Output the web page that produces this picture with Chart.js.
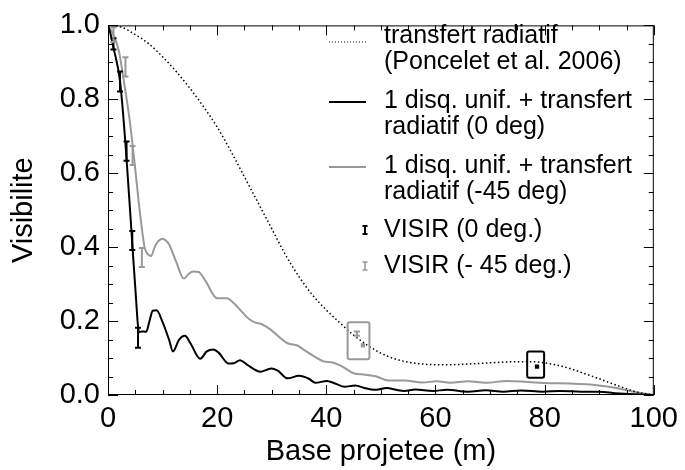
<!DOCTYPE html>
<html>
<head>
<meta charset="utf-8">
<script src="https://cdn.jsdelivr.net/npm/chart.js@4/dist/chart.umd.min.js"></script>
<style>
  html, body { margin: 0; padding: 0; background: #fff; }
  #wrap { width: 685px; height: 470px; }
</style>
</head>
<body>
<div id="wrap"><canvas id="visChart"></canvas></div>
<script>
// transfert radiatif (Poncelet et al. 2006)
const radBase = [0, 2.5, 5, 7.5, 10, 12.5, 15, 17.5, 20, 22.5, 25, 27.5, 30, 32.5, 35, 37.5, 40, 42.5, 45, 47.5, 50, 52.5, 55, 57.5, 60, 62.5, 65, 67.5, 70, 72.5, 75, 77.5, 80, 82.5, 85, 87.5, 90, 92.5, 95, 97.5, 100];
const radVis  = [1.0, 0.995, 0.975, 0.95, 0.915, 0.875, 0.83, 0.78, 0.725, 0.66, 0.59, 0.52, 0.45, 0.38, 0.32, 0.27, 0.23, 0.195, 0.162, 0.135, 0.113, 0.098, 0.089, 0.084, 0.082, 0.082, 0.083, 0.085, 0.087, 0.089, 0.09, 0.09, 0.087, 0.08, 0.07, 0.057, 0.044, 0.03, 0.017, 0.006, 0.0];

// 1 disq. unif. + transfert radiatif (0 deg)
const disk0Base = [0, 0.5, 1, 2.2, 3.3, 4.4, 5, 5.7, 6.1, 7.0, 7.6, 8.2, 8.9, 10.0, 11.2, 11.9, 13.0, 14.1, 15.1, 16.9, 18.1, 19.3, 20.3, 22.1, 23.0, 24.2, 25.4, 27.9, 29.9, 31.1, 32.9, 35.0, 36.8, 38.0, 40.1, 41.8, 43.3, 45.3, 47.0, 48.8, 51.1, 52.8, 54.3, 56.3, 59.5, 62.1, 66.0, 69.2, 72.4, 75.7, 79.6, 82.8, 86.7, 90, 93, 96.5, 100];
const disk0Vis  = [1.0, 0.975, 0.94, 0.85, 0.66, 0.42, 0.29, 0.17, 0.172, 0.171, 0.2, 0.228, 0.229, 0.197, 0.149, 0.118, 0.149, 0.16, 0.14, 0.098, 0.118, 0.123, 0.114, 0.085, 0.086, 0.094, 0.083, 0.063, 0.072, 0.066, 0.045, 0.052, 0.044, 0.033, 0.038, 0.03, 0.022, 0.026, 0.019, 0.014, 0.019, 0.014, 0.011, 0.015, 0.011, 0.014, 0.009, 0.013, 0.009, 0.012, 0.009, 0.011, 0.009, 0.009, 0.005, 0.002, 0.0];

// 1 disq. unif. + transfert radiatif (-45 deg)
const disk45Base = [0, 1, 2, 3, 4, 5, 5.8, 6.7, 7.1, 7.9, 8.5, 9.1, 10.0, 10.6, 11.2, 12.5, 13.9, 14.8, 15.7, 16.6, 17.8, 20.0, 21.8, 23.0, 25.9, 27.0, 28.1, 29.6, 32.9, 34.7, 35.9, 38.3, 39.5, 41.1, 42.7, 45.0, 47.2, 49.2, 51.4, 54.3, 57.6, 60.2, 62.7, 66.0, 69.2, 73.1, 77.0, 80.9, 84.7, 89.9, 93.1, 96.5, 100];
const disk45Vis  = [1.0, 0.975, 0.93, 0.84, 0.74, 0.61, 0.5, 0.40, 0.385, 0.376, 0.398, 0.414, 0.423, 0.418, 0.407, 0.36, 0.315, 0.328, 0.334, 0.333, 0.31, 0.262, 0.262, 0.249, 0.205, 0.196, 0.192, 0.179, 0.14, 0.134, 0.122, 0.1, 0.091, 0.088, 0.079, 0.059, 0.055, 0.05, 0.039, 0.039, 0.034, 0.037, 0.033, 0.037, 0.033, 0.038, 0.035, 0.032, 0.031, 0.026, 0.019, 0.008, 0.0];

// VISIR measurements with error bars
const visir0Base = [1.0, 2.2, 3.4, 4.45, 5.5];
const visir0Vis  = [0.95, 0.848, 0.66, 0.418, 0.155];
const visir0Err  = [0.015, 0.027, 0.026, 0.026, 0.027];

const visir45Base = [1.0, 3.2, 4.5, 6.2, 45.6];
const visir45Vis  = [0.975, 0.888, 0.648, 0.372, 0.166];
const visir45Err  = [0.02, 0.026, 0.026, 0.026, 0.006];

// isolated points and the boxes drawn round them [xmin, xmax, vmin, vmax]
const blackPoint = [78.6, 0.077];
const grayPoint  = [46.7, 0.134];
const grayBox  = [43.9, 47.9, 0.097, 0.197];
const blackBox = [76.8, 79.9, 0.047, 0.118];

const xTicks = [0, 20, 40, 60, 80, 100];
const yTicks = [0.0, 0.2, 0.4, 0.6, 0.8, 1.0];

const legendEntries = [
  { lines: ['transfert radiatif', '(Poncelet et al. 2006)'], kind: 'dotted' },
  { lines: ['1 disq. unif. + transfert', 'radiatif (0 deg)'], kind: 'black' },
  { lines: ['1 disq. unif. + transfert', 'radiatif (-45 deg)'], kind: 'gray' },
  { lines: ['VISIR (0 deg.)'], kind: 'barBlack' },
  { lines: ['VISIR (- 45 deg.)'], kind: 'barGray' }
];

const GRAY = '#999999';
const FONT = '"Liberation Sans", Arial, Helvetica, sans-serif';

function pts(xs, ys) {
  return xs.map((x, i) => ({ x: x, y: ys[i] }));
}

const extras = {
  id: 'extras',
  afterDatasetsDraw(chart) {
    const ctx = chart.ctx;
    const xs = chart.scales.x, ys = chart.scales.y;
    const a = chart.chartArea;
    ctx.save();

    // error bars
    function bars(bx, bv, be, color) {
      ctx.strokeStyle = color;
      ctx.lineWidth = 2;
      bx.forEach((x, i) => {
        const px = xs.getPixelForValue(x);
        const p1 = ys.getPixelForValue(bv[i] + be[i]);
        const p2 = ys.getPixelForValue(bv[i] - be[i]);
        ctx.beginPath();
        ctx.moveTo(px, p1); ctx.lineTo(px, p2);
        ctx.moveTo(px - 3, p1); ctx.lineTo(px + 3, p1);
        ctx.moveTo(px - 3, p2); ctx.lineTo(px + 3, p2);
        ctx.stroke();
      });
    }
    bars(visir0Base, visir0Vis, visir0Err, '#000');
    bars(visir45Base, visir45Vis, visir45Err, GRAY);

    // boxes
    function box(b, color) {
      const x1 = xs.getPixelForValue(b[0]), x2 = xs.getPixelForValue(b[1]);
      const y1 = ys.getPixelForValue(b[3]), y2 = ys.getPixelForValue(b[2]);
      ctx.strokeStyle = color;
      ctx.lineWidth = 2;
      ctx.beginPath();
      ctx.roundRect(x1, y1, x2 - x1, y2 - y1, 2);
      ctx.stroke();
    }
    box(grayBox, GRAY);
    box(blackBox, '#000');

    // frame and inward ticks on all four sides
    ctx.strokeStyle = '#000';
    ctx.lineWidth = 1;
    ctx.strokeRect(a.left + 0.5, a.top + 0.5, a.right - a.left - 1, a.bottom - a.top - 1);
    ctx.beginPath();
    for (let v = 0; v <= 100; v += 5) {
      const px = Math.round(xs.getPixelForValue(v)) + 0.5;
      const len = v % 20 === 0 ? 10 : 5;
      ctx.moveTo(px, a.bottom); ctx.lineTo(px, a.bottom - len);
      ctx.moveTo(px, a.top); ctx.lineTo(px, a.top + len);
    }
    for (let k = 0; k <= 20; k++) {
      const py = Math.round(ys.getPixelForValue(k * 0.05)) + 0.5;
      const len = k % 4 === 0 ? 10 : 5;
      ctx.moveTo(a.left, py); ctx.lineTo(a.left + len, py);
      ctx.moveTo(a.right, py); ctx.lineTo(a.right - len, py);
    }
    ctx.stroke();

    // legend
    const sx1 = 329, sx2 = 366, tx = 384;
    const rows = [[36, 62], [101, 127], [166, 192], [230], [266]];
    const sampleY = [42, 102, 167, 230, 266];
    ctx.font = '25px ' + FONT;
    ctx.fillStyle = '#000';
    ctx.textBaseline = 'middle';
    ctx.textAlign = 'left';
    legendEntries.forEach((e, i) => {
      const ly = sampleY[i];
      ctx.beginPath();
      if (e.kind === 'dotted' || e.kind === 'black' || e.kind === 'gray') {
        ctx.strokeStyle = e.kind === 'gray' ? GRAY : '#000';
        ctx.lineWidth = e.kind === 'dotted' ? 1 : 2;
        ctx.setLineDash(e.kind === 'dotted' ? [1, 2] : []);
        ctx.moveTo(sx1, ly); ctx.lineTo(sx2, ly);
        ctx.stroke();
        ctx.setLineDash([]);
      } else {
        const c = e.kind === 'barGray' ? GRAY : '#000';
        ctx.strokeStyle = c;
        ctx.lineWidth = e.kind === 'barGray' ? 1.5 : 2;
        const mx = 365;
        ctx.moveTo(mx, ly - 4); ctx.lineTo(mx, ly + 4);
        ctx.moveTo(mx - 2.5, ly - 4); ctx.lineTo(mx + 2.5, ly - 4);
        ctx.moveTo(mx - 2.5, ly + 4); ctx.lineTo(mx + 2.5, ly + 4);
        ctx.stroke();
      }
      e.lines.forEach((t, j) => ctx.fillText(t, tx, rows[i][j]));
    });
    ctx.restore();
  }
};

const ctx = document.getElementById('visChart');
new Chart(ctx, {
  type: 'scatter',
  data: {
    datasets: [
      {
        label: 'transfert radiatif',
        data: pts(radBase, radVis),
        showLine: true,
        borderColor: '#000',
        borderWidth: 1.5,
        borderDash: [1.5, 2.5],
        pointRadius: 0,
        cubicInterpolationMode: 'monotone'
      },
      {
        label: '1 disq. unif. (0 deg)',
        data: pts(disk0Base, disk0Vis),
        showLine: true,
        borderColor: '#000',
        borderWidth: 2,
        pointRadius: 0,
        cubicInterpolationMode: 'monotone'
      },
      {
        label: '1 disq. unif. (-45 deg)',
        data: pts(disk45Base, disk45Vis),
        showLine: true,
        borderColor: GRAY,
        borderWidth: 2,
        pointRadius: 0,
        cubicInterpolationMode: 'monotone'
      },
      {
        label: 'points',
        data: [{ x: blackPoint[0], y: blackPoint[1] }],
        pointStyle: 'rect',
        pointRadius: 3,
        backgroundColor: '#000',
        borderWidth: 0
      },
      {
        label: 'points gris',
        data: [{ x: grayPoint[0], y: grayPoint[1] }],
        pointStyle: 'rect',
        pointRadius: 3,
        backgroundColor: GRAY,
        borderWidth: 0
      }
    ]
  },
  options: {
    responsive: true,
    maintainAspectRatio: false,
    animation: false,
    layout: { padding: { left: 0, right: 24, top: 14, bottom: 0 } },
    plugins: {
      legend: { display: false },
      tooltip: { enabled: false }
    },
    scales: {
      x: {
        type: 'linear',
        min: 0,
        max: 100,
        afterFit: s => { s.height = 75; },
        afterBuildTicks: s => { s.ticks = xTicks.map(v => ({ value: v })); },
        grid: { display: false, drawTicks: false },
        border: { display: false },
        ticks: { color: '#000', padding: 7, font: { family: FONT, size: 29 } },
        title: {
          display: true,
          text: 'Base projetee (m)',
          color: '#000',
          padding: { top: 1, bottom: 1 },
          font: { family: FONT, size: 29 }
        }
      },
      y: {
        type: 'linear',
        min: 0,
        max: 1,
        afterFit: s => { s.width = 108; },
        afterBuildTicks: s => { s.ticks = yTicks.map(v => ({ value: v })); },
        grid: { display: false, drawTicks: false },
        border: { display: false },
        ticks: {
          color: '#000',
          padding: 8,
          font: { family: FONT, size: 29 },
          callback: v => v.toFixed(1)
        },
        title: {
          display: true,
          text: 'Visibilite',
          color: '#000',
          padding: { top: 7, bottom: 0 },
          font: { family: FONT, size: 29 }
        }
      }
    }
  },
  plugins: [extras]
});
</script>
</body>
</html>
